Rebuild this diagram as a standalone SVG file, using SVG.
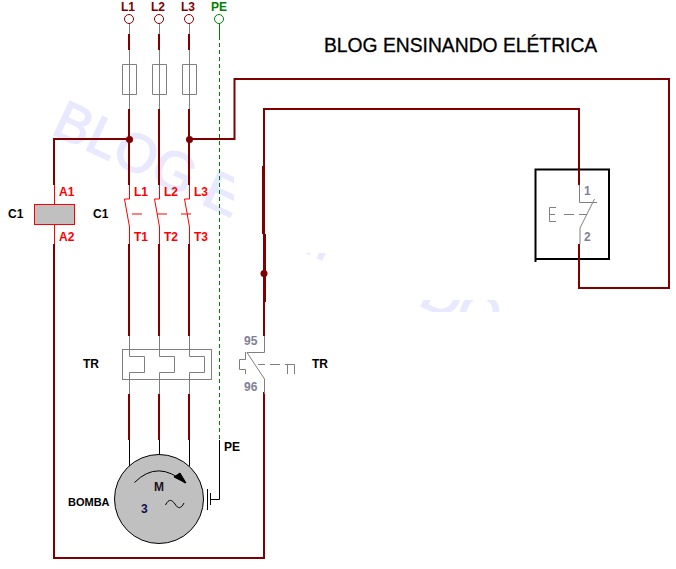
<svg xmlns="http://www.w3.org/2000/svg" width="676" height="569" viewBox="0 0 676 569">
<style>
text{font-family:"Liberation Sans",Arial,sans-serif;font-weight:bold;font-size:12px}
.w{fill:none;stroke:#800000;stroke-width:2}
.w3{fill:none;stroke:#800000;stroke-width:3}
.g{fill:none;stroke:#808080;stroke-width:1}
.r{fill:none;stroke:#f00;stroke-width:1}
.k{fill:none;stroke:#000;stroke-width:1}
.dot{fill:#800000}
.dr{fill:#800000}
.red{fill:#f00}
.gt{fill:#808098}
.wm{font-size:54px;fill:#e8e8ff;font-weight:normal;stroke:#e8e8ff;stroke-width:1.500}
</style>
<defs>
<clipPath id="wc"><rect x="0" y="90" width="234" height="128"/><rect x="305" y="253" width="26" height="10"/><rect x="415" y="300" width="95" height="12"/></clipPath>
</defs>
<rect width="676" height="569" fill="#fff"/>
<g id="watermark" clip-path="url(#wc)"><text class="wm" transform="translate(50,133) rotate(25)">BLOG ENSINANDO</text></g>
<text x="324" y="52" style="font-size:19.300px;font-weight:normal;stroke:#000;stroke-width:.3">BLOG ENSINANDO ELÉTRICA</text>
<g id="connectors">
<path class="w" d="M129 34V50M159 34V50M189 34V50"/>
<path class="g" d="M129.500 24V34M159.500 24V34M189.500 24V34M129.500 50V109M159.500 50V109M189.500 50V109"/>
<path class="w" d="M129 109V185M159 109V185M189 109V185M129 244V336M159 244V336M189 244V336M129 394V440M159 394V440M189 394V440"/>
<path class="w" d="M54 185V139H129M189 139H234.500V79H669V288H579V244M579 185V109H264V336M54 244V558H264V392"/>
<path class="w3" d="M263.500 166V234M264.500 234V302"/>
<path class="k" d="M129.500 440V466M159.500 440V454M189.500 440V466"/>
<path d="M219.500 24V36" stroke="#008000" fill="none"/>
<path d="M219.500 36V440" stroke="#008000" fill="none" stroke-dasharray="4 3"/>
<path class="k" d="M219.500 440V499.500H210"/>
<circle class="dot" cx="129.500" cy="139.500" r="3.500"/><circle class="dot" cx="189.500" cy="139.500" r="3.500"/><circle class="dot" cx="264" cy="273.500" r="3.500"/>
</g>
<g id="terminals" fill="#fff" stroke="#800000">
<circle cx="129" cy="19" r="4.500"/><circle cx="159" cy="19" r="4.500"/><circle cx="189" cy="19" r="4.500"/>
<circle cx="219" cy="19" r="4.500" stroke="#008000"/>
</g>
<g id="terminal-labels">
<text class="dr" x="121" y="11">L1</text><text class="dr" x="151" y="11">L2</text><text class="dr" x="181" y="11">L3</text>
<text x="211" y="11" fill="#008000">PE</text>
</g>
<g id="fuses">
<path class="g" d="M122.500 64.500h14v30h-14zM152.500 64.500h14v30h-14zM182.500 64.500h14v30h-14z"/>
</g>
<g id="coil-c1">
<path class="r" d="M54.500 185V204M54.500 225V244"/>
<rect x="34.500" y="204.500" width="40" height="20" fill="#c0c0c0" stroke="#f00"/>
<text class="red" x="59" y="196">A1</text><text class="red" x="59" y="241">A2</text>
<text x="8" y="218" fill="#000">C1</text>
</g>
<g id="contactor-c1">
<path class="r" d="M129.500 185V199H124.500L129.500 227V244M159.500 185V199H154.500L159.500 227V244M189.500 185V199H184.500L189.500 227V244"/>
<path class="r" d="M132 214H142M157 214H167M181 214H191"/>
<text class="red" x="134" y="196">L1</text><text class="red" x="164" y="196">L2</text><text class="red" x="194" y="196">L3</text>
<text class="red" x="134" y="241">T1</text><text class="red" x="164" y="241">T2</text><text class="red" x="194" y="241">T3</text>
<text x="93" y="218" fill="#000">C1</text>
</g>
<g id="overload-tr">
<rect class="g" x="122.500" y="349.500" width="89" height="30"/>
<path class="g" d="M129.500 336V356.500H144.500V372.500H129.500V394M159.500 336V356.500H174.500V372.500H159.500V394M189.500 336V356.500H204.500V372.500H189.500V394"/>
<text x="83" y="368" fill="#000">TR</text>
</g>
<g id="motor">
<circle cx="159" cy="499" r="44.500" fill="#c0c0c0" stroke="#000"/>
<path class="k" d="M134.500 482.500Q158 459 185 483"/>
<path d="M174 477L180 473L186 483Z" fill="#000" stroke="#000"/>
<path class="k" d="M165.500 505C169 498 172 500 175 504C178 509 181 509 184 503"/>
<path class="k" d="M207.500 489V510M210.500 493V505"/>
<text x="154" y="491" fill="#201020">M</text><text x="141" y="513" fill="#101050">3</text>
<text x="68" y="506" fill="#000" style="font-size:11px">BOMBA</text><text x="224" y="451" fill="#000">PE</text>
</g>
<g id="relay-contact">
<path class="g" d="M264.500 336V352.500H247L264.500 379V394"/>
<path class="g" d="M245.500 352V359.500H239.500V369.500H245.500V374M258 364.500H265M270 364.500H280M285 364.500H294.500V374M287.500 364.500V374"/>
<text class="gt" x="244" y="345">95</text><text class="gt" x="244" y="391">96</text>
<text x="312" y="368" fill="#000">TR</text>
</g>
<g id="push-button">
<path d="M535.500 262V169.500H609V259H535.500" fill="none" stroke="#000" stroke-width="2"/>
<path class="w" d="M579 169V185M579 244V260"/>
<path class="g" d="M579.500 185V202.500H597M594.500 199L580 228V244M556 207.500H549.500V221.500H556M549.500 214.500H555M564 214.500H574M579 214.500H587"/>
<text class="gt" x="584" y="195">1</text><text class="gt" x="584" y="241">2</text>
</g>
</svg>
